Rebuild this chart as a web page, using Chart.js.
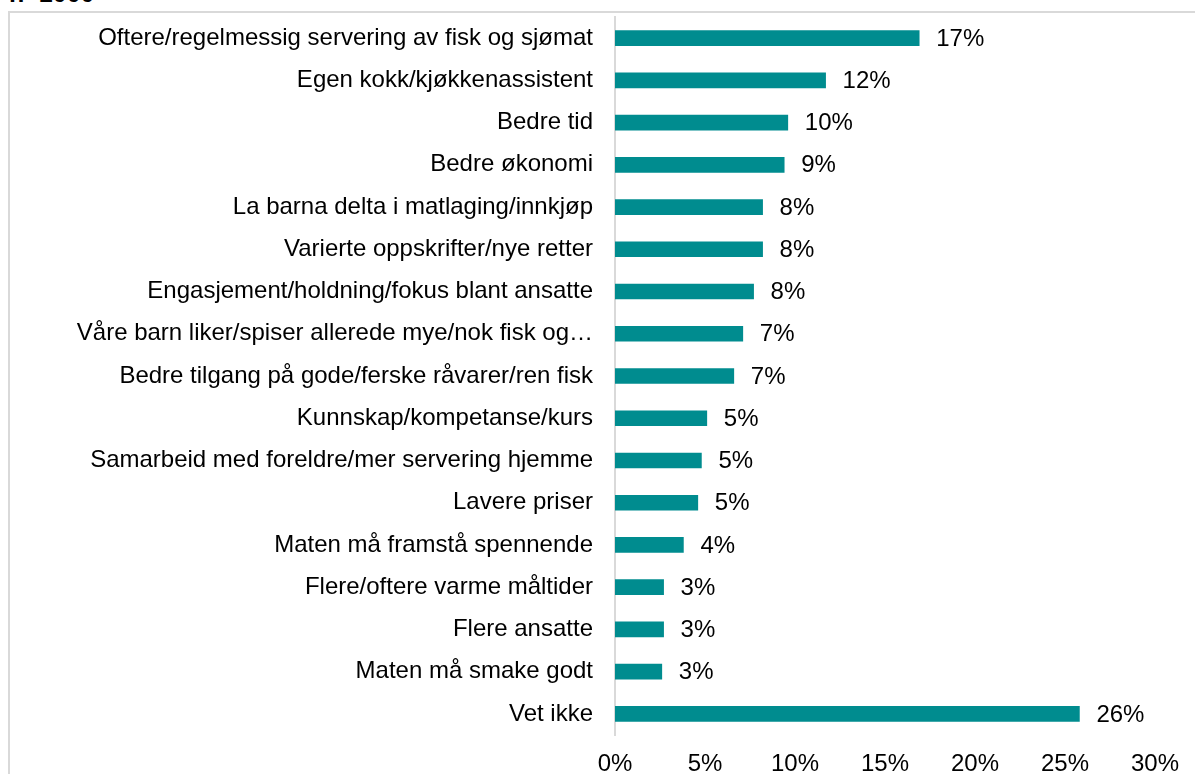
<!DOCTYPE html>
<html>
<head>
<meta charset="utf-8">
<script src="https://cdn.jsdelivr.net/npm/chart.js@4/dist/chart.umd.min.js"></script>
<style>
  body { margin: 0; background: #fff; overflow: hidden; }
  #frame { position: absolute; left: 8px; top: 11px; width: 1300px; height: 900px; border: 2px solid #d9d9d9; }
  #title { position: absolute; left: 9px; top: -21px; font: bold 25px "Liberation Sans", Arial, sans-serif; color: #000; }
  #wrap { position: absolute; left: 0; top: 0; width: 1195px; height: 774px; }
</style>
</head>
<body>
<div id="frame"></div>
<div id="title">n=1000</div>
<div id="wrap"><canvas id="myChart"></canvas></div>
<script>
const categories = [
  'Oftere/regelmessig servering av fisk og sjømat',
  'Egen kokk/kjøkkenassistent',
  'Bedre tid',
  'Bedre økonomi',
  'La barna delta i matlaging/innkjøp',
  'Varierte oppskrifter/nye retter',
  'Engasjement/holdning/fokus blant ansatte',
  'Våre barn liker/spiser allerede mye/nok fisk og…',
  'Bedre tilgang på gode/ferske råvarer/ren fisk',
  'Kunnskap/kompetanse/kurs',
  'Samarbeid med foreldre/mer servering hjemme',
  'Lavere priser',
  'Maten må framstå spennende',
  'Flere/oftere varme måltider',
  'Flere ansatte',
  'Maten må smake godt',
  'Vet ikke'
];
const values = [16.9, 11.7, 9.6, 9.4, 8.2, 8.2, 7.7, 7.1, 6.6, 5.1, 4.8, 4.6, 3.8, 2.7, 2.7, 2.6, 25.8];
const valueLabels = ['17%', '12%', '10%', '9%', '8%', '8%', '8%', '7%', '7%', '5%', '5%', '5%', '4%', '3%', '3%', '3%', '26%'];

const fontFamily = '"Liberation Sans", Arial, sans-serif';

const barLabels = {
  id: 'barLabels',
  afterDatasetsDraw(chart) {
    const ctx = chart.ctx;
    const meta = chart.getDatasetMeta(0);
    ctx.save();
    ctx.font = '24px ' + fontFamily;
    ctx.fillStyle = '#000';
    ctx.textBaseline = 'middle';
    ctx.textAlign = 'left';
    meta.data.forEach((bar, i) => {
      ctx.fillText(valueLabels[i], bar.x + 17, bar.y + 1);
    });
    ctx.restore();
  }
};

const ctx = document.getElementById('myChart').getContext('2d');
const myChart = new Chart(ctx, {
  type: 'bar',
  data: {
    labels: categories,
    datasets: [{
      data: values,
      backgroundColor: '#008C8F',
      borderWidth: 0,
      barThickness: 15
    }]
  },
  plugins: [barLabels],
  options: {
    indexAxis: 'y',
    responsive: true,
    maintainAspectRatio: false,
    animation: false,
    layout: { padding: { top: 17, right: 40, left: 0, bottom: 0 } },
    plugins: {
      legend: { display: false },
      tooltip: { enabled: false }
    },
    scales: {
      x: {
        min: 0,
        max: 30,
        ticks: {
          stepSize: 5,
          padding: 15,
          color: '#000',
          font: { family: fontFamily, size: 24 },
          callback: (v) => v + '%'
        },
        grid: { display: false, drawTicks: false },
        border: { display: false },
        afterFit: (scale) => {
          scale.height = 39;
          scale.paddingLeft = 0;
          scale.paddingRight = 0;
        }
      },
      y: {
        ticks: {
          padding: 22,
          color: '#000',
          autoSkip: false,
          font: { family: fontFamily, size: 24 }
        },
        grid: { display: false, drawTicks: false },
        border: { display: true, color: '#d9d9d9', width: 2 },
        afterFit: (scale) => {
          scale.width = 615;
          scale.paddingTop = 0;
          scale.paddingBottom = 0;
        }
      }
    }
  }
});
</script>
</body>
</html>
